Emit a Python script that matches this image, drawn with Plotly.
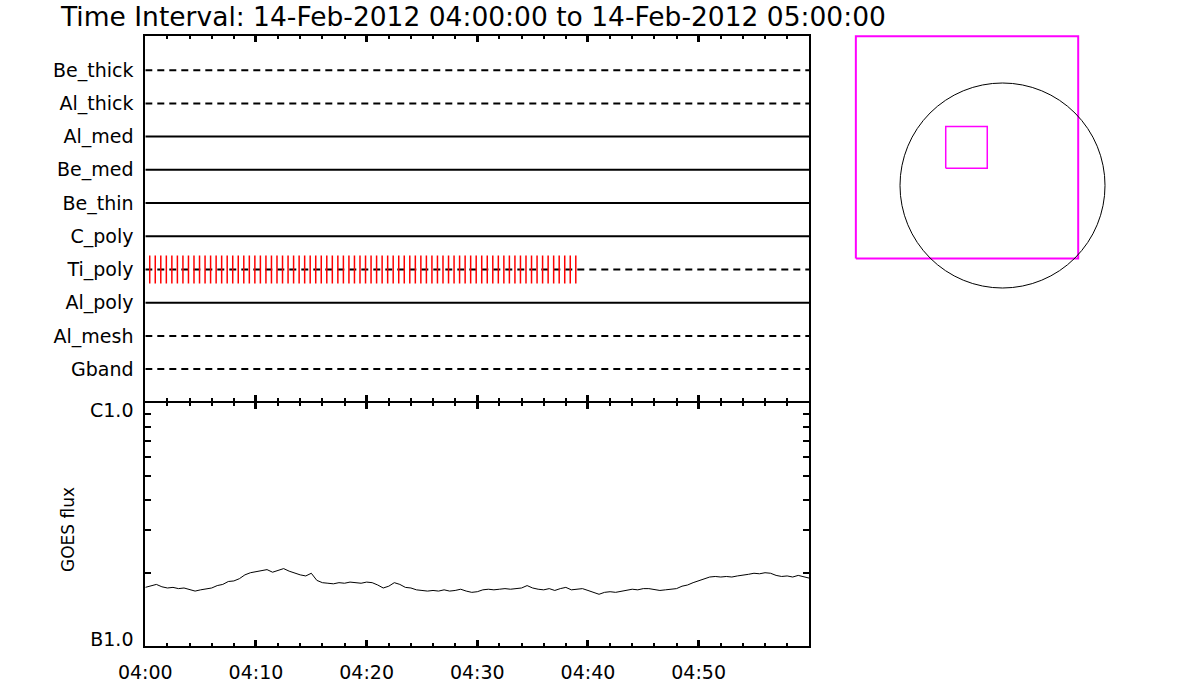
import numpy as np
import pandas as pd
import plotly.graph_objects as go

# filter / attenuator rows, top to bottom
rows = ["Be_thick", "Al_thick", "Al_med", "Be_med", "Be_thin",
        "C_poly", "Ti_poly", "Al_poly", "Al_mesh", "Gband"]
row_dash = ["dash", "dash", "solid", "solid", "solid",
            "solid", "dash", "solid", "dash", "dash"]

t_start = "2012-02-14 04:00:00"
t_end = "2012-02-14 05:00:00"
title = "Time Interval: 14-Feb-2012 04:00:00 to 14-Feb-2012 05:00:00"

# red marks on the Ti_poly row, one every 30 s
mark_row = "Ti_poly"
mark_times = pd.date_range("2012-02-14 04:00:24", "2012-02-14 04:38:54", freq="30s")

# GOES 1-8 A flux, units of 1e-7 W/m^2, 30 s samples from 04:00 to 05:00
goes_time = pd.date_range(t_start, t_end, freq="30s")
goes_flux = [
    1.74, 1.76, 1.79, 1.75, 1.73, 1.74, 1.72, 1.73, 1.70, 1.68,
    1.70, 1.71, 1.73, 1.77, 1.79, 1.84, 1.85, 1.89, 1.96, 2.00,
    2.02, 2.03, 2.06, 2.01, 2.04, 2.08, 2.03, 1.99, 1.96, 1.94,
    1.99, 1.86, 1.82, 1.81, 1.80, 1.82, 1.81, 1.83, 1.82, 1.81,
    1.83, 1.82, 1.78, 1.73, 1.76, 1.82, 1.79, 1.74, 1.73, 1.70,
    1.69, 1.68, 1.69, 1.68, 1.70, 1.68, 1.69, 1.71, 1.68, 1.66,
    1.67, 1.70, 1.71, 1.70, 1.71, 1.72, 1.71, 1.72, 1.73, 1.77,
    1.73, 1.71, 1.70, 1.72, 1.69, 1.72, 1.74, 1.70, 1.71, 1.72,
    1.69, 1.66, 1.63, 1.66, 1.67, 1.66, 1.68, 1.69, 1.71, 1.70,
    1.72, 1.72, 1.70, 1.69, 1.70, 1.71, 1.72, 1.76, 1.78, 1.82,
    1.85, 1.88, 1.92, 1.93, 1.92, 1.93, 1.92, 1.94, 1.95, 1.97,
    1.99, 1.98, 2.00, 1.99, 1.95, 1.93, 1.94, 1.92, 1.95, 1.93,
    1.90,
]
goes_ticks = [1e-7, 2e-7, 3e-7, 4e-7, 5e-7, 6e-7, 7e-7, 8e-7, 9e-7, 1e-6]
goes_labels = ["B1.0", "C1.0"]

# pointing map, arcsec from sun centre
sun_radius = 975
fov_x = [-1395, 720, 720, -1395, -1395]
fov_y = [-695, -695, 1420, 1420, -695]
box_x = [-540, -145, -145, -540, -540]
box_y = [165, 165, 560, 560, 165]

FONT = "DejaVu Sans"
W, H = 1200, 700


def px_x(p):
    return p / W


def px_y(p):
    return 1 - p / H


fig = go.Figure()

nrows = len(rows)
row_y = {name: nrows - i for i, name in enumerate(rows)}
for name, dash in zip(rows, row_dash):
    fig.add_trace(go.Scatter(
        x=[t_start, t_end], y=[row_y[name]] * 2, mode="lines",
        line=dict(color="black", width=2, dash="7px,5px" if dash == "dash" else "solid"),
        xaxis="x", yaxis="y", hoverinfo="skip"))

mx, my = [], []
for t in mark_times:
    mx += [t, t, None]
    my += [row_y[mark_row] - 0.42, row_y[mark_row] + 0.42, None]
fig.add_trace(go.Scatter(x=mx, y=my, mode="lines", line=dict(color="red", width=1.5),
                         xaxis="x", yaxis="y", hoverinfo="skip"))

fig.add_trace(go.Scatter(x=goes_time, y=np.array(goes_flux) * 1e-7, mode="lines",
                         line=dict(color="black", width=1), xaxis="x2", yaxis="y2"))

fig.add_trace(go.Scatter(x=fov_x, y=fov_y, mode="lines", line=dict(color="#ff00ff", width=2),
                         xaxis="x3", yaxis="y3"))
fig.add_trace(go.Scatter(x=box_x, y=box_y, mode="lines", line=dict(color="#ff00ff", width=1.5),
                         xaxis="x3", yaxis="y3"))
fig.add_shape(type="circle", xref="x3", yref="y3",
              x0=-sun_radius, x1=sun_radius, y0=-sun_radius, y1=sun_radius,
              line=dict(color="black", width=1))

major = pd.date_range(t_start, t_end, freq="10min")
major_text = [t.strftime("%H:%M") for t in major[:-1]] + [""]

time_axis = dict(
    type="date", range=[t_start, t_end], showgrid=False, zeroline=False,
    showline=True, linecolor="black", linewidth=2, mirror="ticks", automargin=False,
    tickmode="array", tickvals=major, ticktext=major_text,
    ticks="inside", ticklen=6, tickwidth=2.5, tickcolor="black",
    minor=dict(tickmode="linear", tick0=t_start, dtick=120000, ticks="inside",
               ticklen=3, tickwidth=2, tickcolor="black"),
    tickfont=dict(family=FONT, size=19, color="black"),
)

fig.update_layout(
    width=W, height=H, margin=dict(l=0, r=0, t=0, b=0, autoexpand=False),
    paper_bgcolor="white", plot_bgcolor="white", showlegend=False,
    xaxis=dict(time_axis, domain=[px_x(145.3), px_x(809.3)], anchor="y",
               showticklabels=False, matches="x2"),
    yaxis=dict(domain=[px_y(401.3), px_y(36)], range=[0.03, nrows + 1.03], anchor="x",
               showgrid=False, zeroline=False, showline=True, linecolor="black",
               linewidth=2, mirror=True, ticks="", automargin=False,
               tickmode="array", tickvals=[row_y[n] for n in rows], ticktext=rows,
               ticklabelstandoff=6, tickfont=dict(family=FONT, size=19, color="black")),
    xaxis2=dict(time_axis, domain=[px_x(145.3), px_x(809.3)], anchor="y2",
                ticklabelstandoff=8),
    yaxis2=dict(domain=[px_y(645.7), px_y(403.3)], type="log", range=[-7, -6], anchor="x2",
                showgrid=False, zeroline=False, showline=True, linecolor="black",
                linewidth=2, mirror="ticks", automargin=False,
                tickmode="array", tickvals=[1.058e-7, 9.39e-7], ticktext=goes_labels, ticks="",
                minor=dict(tickmode="array", tickvals=goes_ticks[1:-1], ticks="inside",
                           ticklen=6, tickwidth=1.5, tickcolor="black"),
                ticklabelstandoff=6, tickfont=dict(family=FONT, size=19, color="black")),
    xaxis3=dict(domain=[px_x(850), px_x(1110)], range=[-1450.6, 1022.5], anchor="y3",
                visible=False),
    yaxis3=dict(domain=[px_y(295), px_y(30)], range=[-1041.6, 1479.1], anchor="x3",
                visible=False),
    annotations=[
        dict(text=title, xref="paper", yref="paper", x=px_x(58), y=px_y(16),
             xanchor="left", yanchor="middle", showarrow=False,
             font=dict(family=FONT, size=26.5, color="black")),
        dict(text="GOES flux", xref="paper", yref="paper", x=px_x(68), y=px_y(530),
             xanchor="center", yanchor="middle", textangle=-90, showarrow=False,
             font=dict(family=FONT, size=17, color="black")),
    ],
)

# drop the browser's default body margin so the figure fills the window
fig.write_html("out.html", config={"displayModeBar": False},
               post_script="document.body.style.margin = '0';")
